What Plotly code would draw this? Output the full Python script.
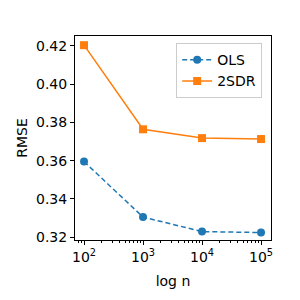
import plotly.graph_objects as go

n_values = [100, 1000, 10000, 100000]
ols_rmse = [0.3595, 0.3305, 0.3229, 0.3224]
sdr_rmse = [0.4204, 0.3764, 0.3718, 0.3713]
x_tick_vals = [100, 1000, 10000, 100000]
x_tick_text = ["10<sup>2</sup>", "10<sup>3</sup>", "10<sup>4</sup>", "10<sup>5</sup>"]
y_tick_vals = [0.32, 0.34, 0.36, 0.38, 0.40, 0.42]
y_tick_text = ["0.32", "0.34", "0.36", "0.38", "0.40", "0.42"]

fig = go.Figure()
fig.add_trace(go.Scatter(x=n_values, y=ols_rmse, name="OLS", mode="lines+markers",
                         line=dict(color="#1f77b4", width=1.5, dash="5px,3px"),
                         marker=dict(symbol="circle", size=8, color="#1f77b4")))
fig.add_trace(go.Scatter(x=n_values, y=sdr_rmse, name="2SDR", mode="lines+markers",
                         line=dict(color="#ff7f0e", width=1.5),
                         marker=dict(symbol="square", size=8, color="#ff7f0e")))

axis_common = dict(showgrid=False, zeroline=False, showline=True, linecolor="black",
                   linewidth=1, mirror=True, ticks="outside", ticklen=4, tickcolor="black",
                   tickfont=dict(size=14, color="black"), automargin=False)
fig.update_xaxes(type="log", range=[1.847, 5.169], tickvals=x_tick_vals, ticktext=x_tick_text,
                 title=dict(text="log n", font=dict(size=14, color="black"), standoff=12),
                 minor=dict(ticks="outside", ticklen=2, tickcolor="black", showgrid=False, dtick="D1"),
                 **axis_common)
fig.update_yaxes(range=[0.3185, 0.4252], tickvals=y_tick_vals, ticktext=y_tick_text,
                 title=dict(text="RMSE", font=dict(size=14, color="black"), standoff=5),
                 **axis_common)
fig.update_layout(width=292, height=292, margin=dict(l=67, r=29, t=28, b=60),
                  paper_bgcolor="white", plot_bgcolor="white",
                  font=dict(family="DejaVu Sans", size=14, color="black"),
                  legend=dict(x=0.955, y=0.965, xanchor="right", yanchor="top",
                              bordercolor="#cccccc", borderwidth=1, bgcolor="white",
                              font=dict(size=14), itemwidth=30, tracegroupgap=0))
fig.write_html("out.html")
